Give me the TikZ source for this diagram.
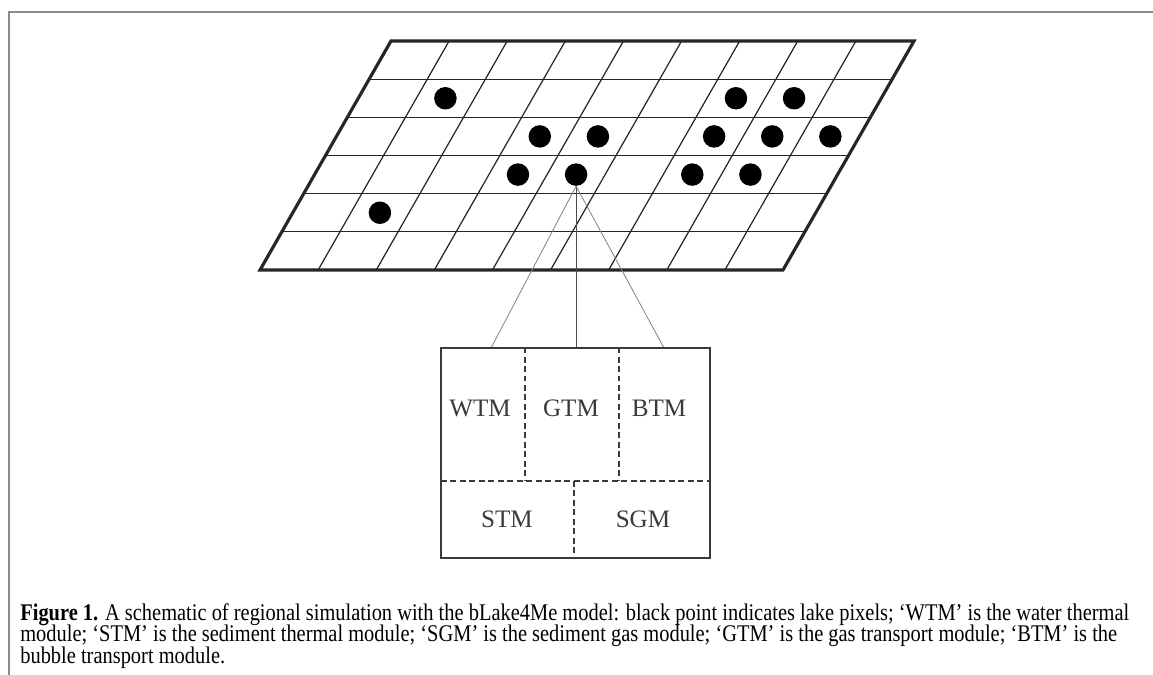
\documentclass[tikz,border=0pt]{standalone}
\usepackage{fontspec}
\setmainfont{Liberation Serif}
\newfontfamily\capfont[FakeStretch=0.855]{Liberation Serif}
\usetikzlibrary{calc, positioning}

\definecolor{framegray}{HTML}{8C8C8C}
\definecolor{inkgray}{HTML}{3A3A3A}

\begin{document}
\begin{tikzpicture}[
  x=0.02cm, y=-0.02cm,
  % --- styles ------------------------------------------------------------
  gridline/.style={line width=0.7pt, black!85},
  gridedge/.style={line width=1.8pt, black!85, line join=miter},
  lakept/.style={circle, fill=black, inner sep=0pt, minimum size=0.45cm},
  modbox/.style={rectangle, draw=inkgray, line width=1.1pt,
    minimum width=5.38cm, minimum height=4.2cm, inner sep=0pt},
  divline/.style={inkgray, line width=0.9pt, dash pattern=on 3.4pt off 2pt},
  zoomline/.style={black!50, line width=0.45pt},
  modlabel/.style={font=\fontsize{14.3}{16}\selectfont, text=inkgray, inner sep=0pt},
  capline/.style={anchor=base west, inner sep=0pt, font=\capfont\fontsize{13.6}{14}\selectfont},
  pageframe/.style={framegray, line width=1.1pt}
]
\useasboundingbox (0,0) rectangle (1153,675);

% --------------------- page frame ---------------------------------------
\draw[pageframe] (1153,12) -- (9,12) -- (9,675);

% --------------------- lake grid ----------------------------------------
\coordinate (TL) at (391,41);
\coordinate (TR) at (914,41);
\coordinate (BL) at (260,270);
\coordinate (BR) at (783,270);

\foreach \i in {1,...,5}
  \draw[gridline] ($(TL)!\i/6!(BL)$) -- ($(TR)!\i/6!(BR)$);
\foreach \j in {1,...,8}
  \draw[gridline] ($(TL)!\j/9!(TR)$) -- ($(BL)!\j/9!(BR)$);
\draw[gridedge] (TL) -- (TR) -- (BR) -- (BL) -- cycle;

% lake pixels (row/column, counted from the top left cell)
\foreach \r/\c in {1/1, 1/6, 1/7, 2/3, 2/4, 2/6, 2/7, 2/8, 3/3, 3/4, 3/6, 3/7, 4/1}
  \node[lakept] (p\r\c) at ($(TL)!{(\r+0.5)/6}!(BL) + ({(\c+0.5)*523/9},0)$) {};

% --------------------- module box ---------------------------------------
\node[modbox] (cell) at (575.5,453) {};

\coordinate (midL) at (441,481);
\coordinate (midR) at (710,481);
\draw[divline] (cell.north west -| 525,0) -- (midL -| 525,0);
\draw[divline] (cell.north west -| 619,0) -- (midL -| 619,0);
\draw[divline] (midL) -- (midR);
\draw[divline] (midL -| 574,0) -- (cell.south west -| 574,0);

\node[modlabel] (wtm) at (480,408) {WTM};
\node[modlabel] (gtm) at (571,408) {GTM};
\node[modlabel] (btm) at (659,408) {BTM};
\node[modlabel] (stm) at (507,519) {STM};
\node[modlabel] (sgm) at (643,519) {SGM};

% --------------------- zoom lines ---------------------------------------
\draw[zoomline] (p34.south) -- ($(cell.north west)!0.19!(cell.north east)$);
\draw[zoomline, black!70, line width=0.6pt] (p34.south) -- (p34.south |- cell.north);
\draw[zoomline] (p34.south) -- ($(cell.north west)!0.825!(cell.north east)$);

% --------------------- caption ------------------------------------------
\node[capline] (cap1) at (20,620)
  {\textbf{Figure 1.} A schematic of regional simulation with the bLake4Me model: black point indicates lake pixels; ‘WTM’ is the water thermal};
\node[capline] (cap2) at (20,641.5)
  {module; ‘STM’ is the sediment thermal module; ‘SGM’ is the sediment gas module; ‘GTM’ is the gas transport module; ‘BTM’ is the};
\node[capline] (cap3) at (20,663)
  {bubble transport module.};

\end{tikzpicture}
\end{document}
